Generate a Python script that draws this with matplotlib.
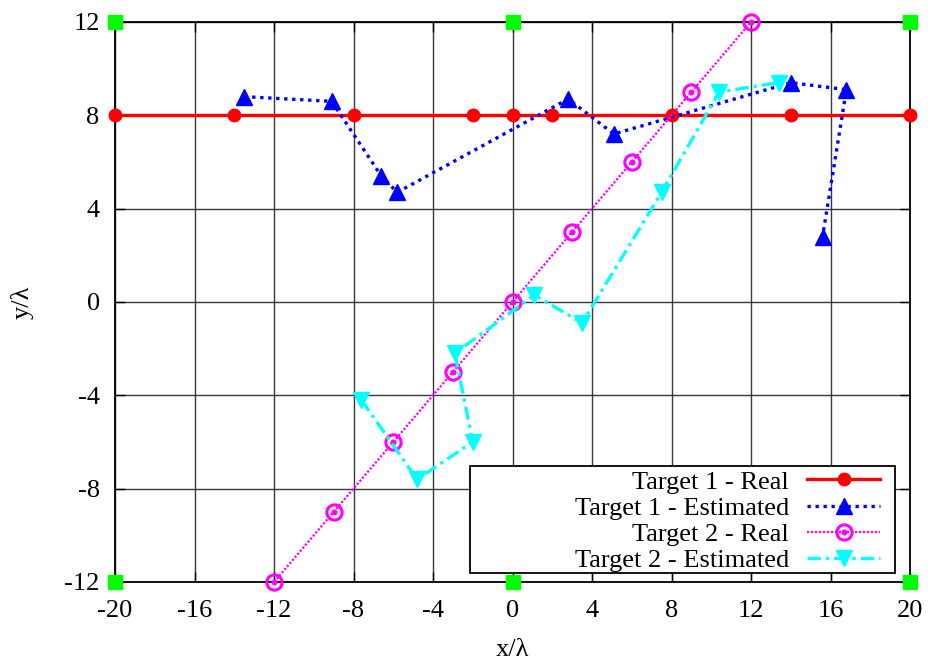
import matplotlib
matplotlib.use("Agg")
import matplotlib.pyplot as plt
from matplotlib.path import Path
from matplotlib.patches import Rectangle
import numpy as np

# ---- data ----
t1_real_x = [-20, -14, -8, -2, 0, 2, 8, 14, 20]
t1_real_y = [8, 8, 8, 8, 8, 8, 8, 8, 8]

t1_est_x = [-13.5, -9.1, -6.6, -5.8, 2.8, 5.1, 14.0, 16.8, 15.6]
t1_est_y = [8.8, 8.6, 5.4, 4.7, 8.7, 7.2, 9.4, 9.1, 2.8]

t2_real_x = [-12, -9, -6, -3, 0, 3, 6, 9, 12]
t2_real_y = [-12, -9, -6, -3, 0, 3, 6, 9, 12]

t2_est_x = [-7.6, -4.8, -2.0, -2.9, 1.1, 3.5, 7.5, 10.4, 13.4]
t2_est_y = [-4.2, -7.6, -6.0, -2.2, 0.3, -0.9, 4.7, 9.0, 9.4]

rx_x = [-20, 0, 20, -20, 0, 20]
rx_y = [12, 12, 12, -12, -12, -12]

xticks = [-20, -16, -12, -8, -4, 0, 4, 8, 12, 16, 20]
yticks = [-12, -8, -4, 0, 4, 8, 12]

plt.rcParams['font.family'] = ['Liberation Serif', 'DejaVu Serif']
plt.rcParams['font.size'] = 19
plt.rcParams['axes.unicode_minus'] = False

W, H = 932, 666
AX_L, AX_R, AX_T, AX_B = 115, 910, 22, 582
fig = plt.figure(figsize=(W/100, H/100), dpi=100)
ax = fig.add_axes([AX_L/W, 1-AX_B/H, (AX_R-AX_L)/W, (AX_B-AX_T)/H])

def axfrac(px, py):
    return (px-AX_L)/(AX_R-AX_L), (AX_B-py)/(AX_B-AX_T)

ring_dot = Path.make_compound_path(Path.unit_circle(),
                                   Path.circle((0, 0), 0.2))

ax.plot(t1_real_x, t1_real_y, color='#ff0000', lw=2.4, marker='o', ms=9,
        label='Target 1 - Real', clip_on=False, zorder=3)
ax.plot(t1_est_x, t1_est_y, color='#0000ff', lw=2.4, ls=(0, (1, 1.4)),
        marker='^', ms=12, label='Target 1 - Estimated', zorder=4)
ax.plot(t2_real_x, t2_real_y, color='#ff00ff', lw=1.6, ls=(0, (1, 0.8)),
        marker=ring_dot, ms=11, mfc='none', mew=2.2,
        label='Target 2 - Real', clip_on=False, zorder=5)
ax.plot(t2_est_x, t2_est_y, color='#00ffff', lw=2.4, ls=(0, (4, 1.5, 1, 1.5)),
        marker='v', ms=12, label='Target 2 - Estimated', zorder=6)
ax.plot(rx_x, rx_y, ls='none', marker='s', ms=9.5, color='#00ff00',
        clip_on=False, zorder=7)

ax.set_xlim(-20, 20)
ax.set_ylim(-12, 12)
ax.set_xticks(xticks)
ax.set_yticks(yticks)
ax.grid(True, color='#222222', lw=1.0, alpha=0.9)
ax.set_axisbelow(True)
ax.tick_params(direction='in', length=7, width=1, top=True, right=True,
               labelsize=19)
ax.tick_params(axis='x', pad=13)
ax.tick_params(axis='y', pad=11)
for s in ax.spines.values():
    s.set_linewidth(1.3)

ax.set_xlabel('x/λ', fontsize=19, labelpad=12)
ax.set_ylabel('y/λ', fontsize=19, labelpad=22)

# legend box
bx0, by0 = axfrac(470, 573)
bx1, by1 = axfrac(895, 466)
box = Rectangle((bx0, by0), bx1-bx0, by1-by0, transform=ax.transAxes,
                facecolor='white', edgecolor='black', lw=1.3, zorder=8,
                clip_on=False)
ax.add_patch(box)

anchor = axfrac(880, 572)
leg = ax.legend(loc='lower right', bbox_to_anchor=anchor,
                markerfirst=False, frameon=False, fontsize=19,
                handlelength=2.75, borderpad=0.0, labelspacing=0.1,
                handletextpad=0.7, borderaxespad=0.0)
leg.set_zorder(9)

fig.savefig('out.png', dpi=100)
